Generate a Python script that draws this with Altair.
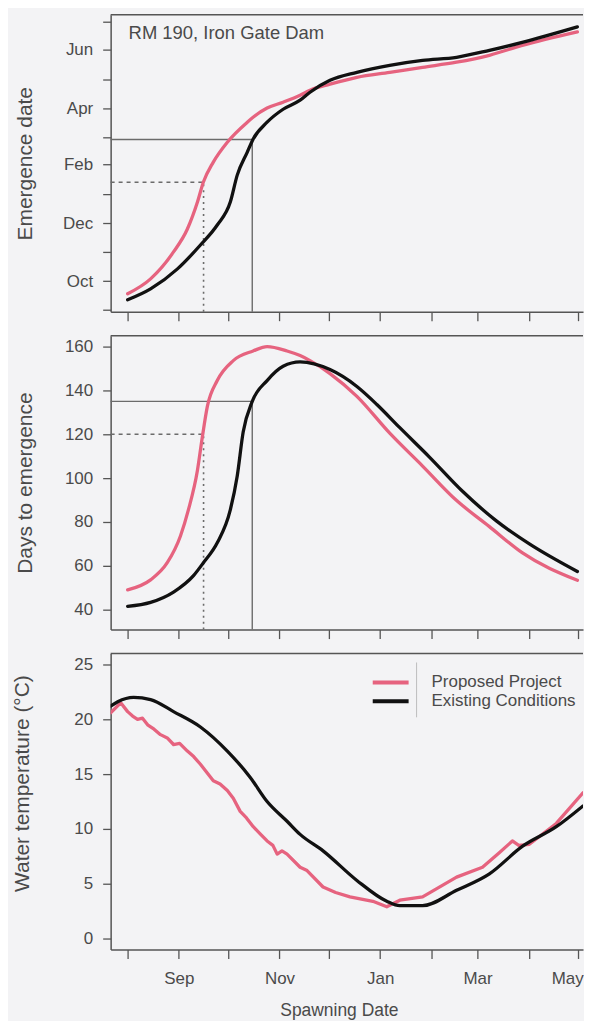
import altair as alt
import pandas as pd

PINK = "#e6637f"
BLACK = "#111111"
AXIS_GREY = "#555555"
TEXT_GREY = "#4a4a4a"
REF_GREY = "#6b6b6b"
BG = "#f3f3f5"
FONT = "Liberation Sans"

series = ["Proposed Project", "Existing Conditions"]

# Spawning date as days since 1 Aug
x_domain = [-10.3, 275.9]
x_ticks = [0, 31, 61, 92, 122, 153, 184, 212, 243, 273]
x_tick_labels = ["", "Sep", "", "Nov", "", "Jan", "", "Mar", "", "May"]

# Panel 1: emergence date (days since 1 Aug)
emerg_domain = [29, 341]
emerg_ticks = [31, 61, 92, 122, 153, 184, 212, 243, 273, 304, 334]
emerg_tick_labels = ["", "Oct", "", "Dec", "", "Feb", "", "Apr", "", "Jun", ""]
emerg_pp_x = [0, 13.9, 27.8, 36.2, 42.3, 45.9, 51.9, 60.4, 72.5, 76.0, 84.5, 94.2, 104.5,
              110.5, 122.6, 138.9, 158.8, 178.7, 199.3, 219.2, 239.1, 272.5]
emerg_pp_y = [47.8, 63.5, 91.8, 115.9, 144.2, 165.2, 186.2, 207.1, 228.1, 233.3, 243.0, 249.1, 256.4,
              261.7, 268.0, 275.3, 280.5, 285.8, 291.1, 298.4, 308.8, 323.0]
emerg_ec_x = [0, 13.9, 30.2, 44.1, 54.3, 62.2, 66.4, 72.5, 76.0, 84.5, 94.2, 104.5, 110.5,
              122.6, 138.9, 158.8, 178.7, 199.3, 219.2, 239.1, 272.5]
emerg_ec_y = [41.5, 53.0, 74.0, 99.1, 120.1, 144.2, 172.5, 196.7, 210.3, 228.1, 241.7, 251.2, 259.6,
              272.1, 280.5, 287.9, 293.1, 296.3, 303.6, 312.0, 328.2]

# Panel 2: days to emergence
days_domain = [30.9, 165]
days_ticks = [40, 60, 80, 100, 120, 140, 160]
days_pp_x = [0, 13.9, 24.0, 32.0, 36.8, 42.3, 45.3, 48.3, 54.3, 64.0, 76.0, 84.5, 96.6, 104.5,
             110.5, 122.6, 138.9, 158.8, 178.7, 199.0, 219.0, 239.0, 272.5]
days_pp_y = [49.0, 53.6, 61.4, 73.6, 85.5, 103.6, 119.0, 132.7, 144.5, 153.6, 158.0, 160.0, 158.0, 155.9,
             153.6, 147.7, 137.3, 120.5, 105.5, 90.0, 78.0, 66.0, 53.4]
days_ec_x = [0, 13.9, 27.8, 39.9, 45.9, 54.3, 62.2, 66.4, 70.0, 75.5, 84.5, 94.2, 104.5,
             122.6, 138.9, 151.0, 164.9, 183.0, 202.9, 223.4, 243.4, 272.5]
days_ec_y = [41.5, 43.3, 48.0, 55.5, 61.4, 70.5, 85.5, 101.0, 121.0, 135.0, 144.5, 151.0, 153.0,
             149.5, 141.8, 133.6, 123.0, 109.5, 94.0, 80.5, 70.0, 57.4]

# Panel 3: water temperature
temp_domain = [-1, 26]
temp_ticks = [0, 5, 10, 15, 20, 25]
temp_pp_x = [-10.3, -4.2, 0, 3.0, 6.0, 9.0, 12.1, 16.0, 19.9, 24.0, 27.8, 31.5, 36.2, 40.0, 44.1,
             51.9, 56.0, 60.4, 64.0, 68.2, 72.0, 76.1, 80.0, 84.5, 88.0, 90.6, 93.5, 96.6, 104.5,
             108.7, 118.4, 126.0, 134.7, 148.6, 157.0, 164.9, 178.7, 199.3, 215.0, 225.0, 233.1,
             237.0, 243.4, 259.7, 275.9]
temp_pp_y = [20.6, 21.5, 20.7, 20.3, 20.0, 20.1, 19.5, 19.1, 18.6, 18.3, 17.7, 17.8, 17.1, 16.6, 15.9,
             14.4, 14.1, 13.5, 12.8, 11.6, 11.0, 10.2, 9.6, 8.9, 8.5, 7.7, 8.0, 7.7, 6.5,
             6.2, 4.7, 4.2, 3.8, 3.4, 2.9, 3.5, 3.8, 5.6, 6.5, 7.8, 8.9,
             8.5, 8.6, 10.5, 13.3]
temp_ec_x = [-10.3, -6.0, 3.6, 13.9, 27.8, 44.1, 60.4, 74.3, 84.5, 96.6, 104.5, 118.4, 138.9,
             157.0, 164.9, 178.7, 199.3, 219.2, 239.1, 259.7, 275.9]
temp_ec_y = [21.2, 21.6, 22.0, 21.8, 20.7, 19.3, 17.1, 14.7, 12.5, 10.7, 9.5, 8.0, 5.3,
             3.4, 3.0, 3.0, 4.4, 5.9, 8.4, 10.2, 12.1]

# Reference lines (spawning day, days to emergence, emergence date)
ref_spawn = [75.5, 46.0]
ref_days = [135, 120]
ref_emerg = [210, 165]
ref_style = ["solid", "dashed"]

PLOT_W = 474


def label_expr(values, labels):
    expr = "''"
    for v, l in zip(values[::-1], labels[::-1]):
        if l:
            expr = f"datum.value == {v} ? '{l}' : ({expr})"
    return expr


def make_df(px, py, ex, ey):
    return pd.DataFrame({
        "day": list(px) + list(ex),
        "value": list(py) + list(ey),
        "series": [series[0]] * len(px) + [series[1]] * len(ex),
    })


def panel(df, y_domain, y_axis, x_axis, height, legend, ref_vals=None, extras=(),
          interp=("monotone", "monotone")):
    xs = alt.Scale(domain=x_domain, nice=False, zero=False)
    ys = alt.Scale(domain=y_domain, nice=False, zero=False)
    cs = alt.Scale(domain=series, range=[PINK, BLACK])

    def X(f):
        return alt.X(f, type="quantitative", scale=xs, axis=x_axis)

    def Y(f):
        return alt.Y(f, type="quantitative", scale=ys, axis=y_axis)

    layers = []
    if ref_vals is not None:
        rdf = pd.DataFrame({
            "spawn": ref_spawn, "val": ref_vals, "style": ref_style,
            "x0": [x_domain[0]] * 2, "y0": [y_domain[0]] * 2,
        })
        rb = alt.Chart(rdf)
        layers.append(rb.transform_filter(alt.datum.style == "solid").mark_rule(
            color=REF_GREY, strokeWidth=1.4).encode(x=X("x0"), x2="spawn:Q", y=Y("val")))
        layers.append(rb.transform_filter(alt.datum.style == "solid").mark_rule(
            color=REF_GREY, strokeWidth=1.4).encode(x=X("spawn"), y=Y("y0"), y2="val:Q"))
        layers.append(rb.transform_filter(alt.datum.style == "dashed").mark_rule(
            color=REF_GREY, strokeWidth=1.4, strokeDash=[4, 4]).encode(x=X("x0"), x2="spawn:Q", y=Y("val")))
        layers.append(rb.transform_filter(alt.datum.style == "dashed").mark_rule(
            color=REF_GREY, strokeWidth=1.6, strokeDash=[2, 4]).encode(x=X("spawn"), y=Y("y0"), y2="val:Q"))

    base = alt.Chart(df)
    for s, ip in zip(series, interp):
        layers.append(base.transform_filter(alt.datum.series == s).mark_line(
            strokeWidth=3.3, clip=True, strokeJoin="round", strokeCap="round",
            interpolate=ip).encode(
            x=X("day"), y=Y("value"),
            color=alt.Color("series:N", scale=cs, legend=legend)))

    border = alt.Chart(pd.DataFrame({"k": [0]})).mark_rule(
        color=AXIS_GREY, strokeWidth=1.5).encode(
        x=alt.value(0), x2=alt.value(PLOT_W), y=alt.value(0))
    layers.append(border)
    layers.extend(extras)
    return alt.layer(*layers).properties(width=PLOT_W, height=height)


def y_axis(values, title, title_x, labels=None, title_y=None):
    kw = dict(values=values, title=title, titleX=title_x, grid=False, tickSize=8, tickWidth=1.3,
              tickColor=AXIS_GREY, domainColor=AXIS_GREY, domainWidth=1.5,
              labelFontSize=17, labelColor=TEXT_GREY, labelPadding=10, labelFont=FONT,
              titleFontSize=21, titleColor=TEXT_GREY, titleFont=FONT, titleFontWeight="normal")
    if labels is not None:
        kw["labelExpr"] = label_expr(values, labels)
    if title_y is not None:
        kw["titleY"] = title_y
    return alt.Axis(**kw)


def x_axis(show_labels):
    kw = dict(values=x_ticks, grid=False, tickSize=9, tickWidth=1.3, tickColor=AXIS_GREY,
              domainColor=AXIS_GREY, domainWidth=1.5)
    if show_labels:
        kw.update(labelExpr=label_expr(x_ticks, x_tick_labels), labelFontSize=17,
                  labelColor=TEXT_GREY, labelPadding=12, labelFont=FONT,
                  labelFlush=15, labelFlushOffset=5,
                  title="Spawning Date", titleFontSize=17.5, titleColor=TEXT_GREY,
                  titleFont=FONT, titleFontWeight="normal", titlePadding=15, titleX=229)
    else:
        kw.update(labels=False, title=None)
    return alt.Axis(**kw)


rm_text = alt.Chart(pd.DataFrame({"k": [0]})).mark_text(
    align="left", baseline="middle", fontSize=18.5, color=TEXT_GREY, font=FONT).encode(
    x=alt.value(18), y=alt.value(18.5), text=alt.value("RM 190, Iron Gate Dam"))

legend_sep = alt.Chart(pd.DataFrame({"k": [0]})).mark_rule(
    color="#bdbdbd", strokeWidth=1).encode(
    x=alt.value(307), y=alt.value(9), y2=alt.value(64))

p1 = panel(make_df(emerg_pp_x, emerg_pp_y, emerg_ec_x, emerg_ec_y), emerg_domain,
           y_axis(emerg_ticks, "Emergence date", -75, labels=emerg_tick_labels),
           x_axis(False), 298, None, ref_vals=ref_emerg, extras=(rm_text,))

p2 = panel(make_df(days_pp_x, days_pp_y, days_ec_x, days_ec_y), days_domain,
           y_axis(days_ticks, "Days to emergence", -75),
           x_axis(False), 295, None, ref_vals=ref_days)

legend = alt.Legend(orient="none", legendX=270, legendY=18, title=None,
                    symbolType="M-2,0H2", symbolSize=324, symbolStrokeWidth=4,
                    labelFontSize=17, labelColor=TEXT_GREY, labelFont=FONT,
                    labelOffset=30, rowPadding=0, padding=0)

p3 = panel(make_df(temp_pp_x, temp_pp_y, temp_ec_x, temp_ec_y), temp_domain,
           y_axis(temp_ticks, "Water temperature (°C)", -78, title_y=130),
           x_axis(True), 297, legend, extras=(legend_sep,), interp=("linear", "monotone"))

chart = alt.vconcat(p1, p2, p3, spacing=13).resolve_scale(
    x="independent", y="independent", color="independent"
).configure(
    background=BG, font=FONT, padding={"left": 3, "top": 4, "right": 0, "bottom": 4}
).configure_view(stroke=None, fill=BG)

chart.save("out.html", embed_options={"renderer": "svg", "actions": False})
